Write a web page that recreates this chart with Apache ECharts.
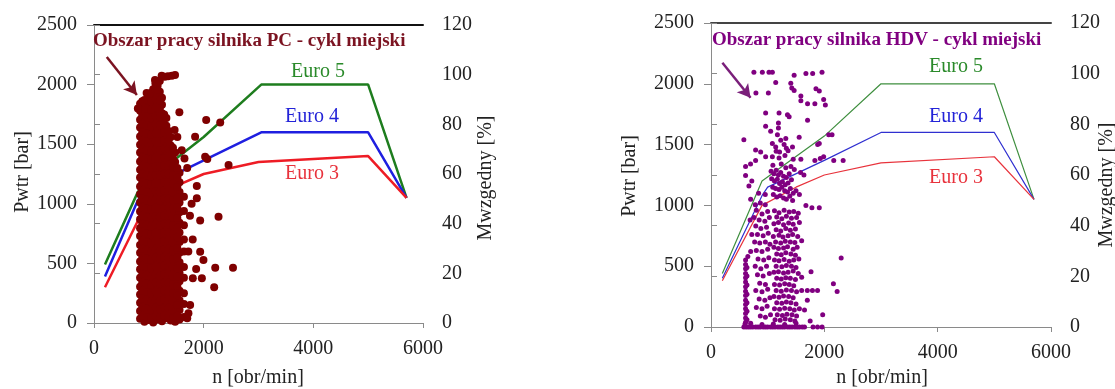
<!DOCTYPE html>
<html>
<head>
<meta charset="utf-8">
<script src="https://cdn.jsdelivr.net/npm/echarts@6/dist/echarts.min.js"></script>
<style>
  html, body { margin: 0; padding: 0; background: #fff; }
  #chart { width: 1115px; height: 389px; }
</style>
</head>
<body>
<div id="chart"></div>
<script>
// axis ticks
const nTicks = [0, 2000, 4000, 6000]
const pwtrTicks = [0, 500, 1000, 1500, 2000, 2500]
const mwzTicks = [0, 20, 40, 60, 80, 100, 120]

// Euro limit lines, [n, Pwtr]
const pcEuro5 = [[200, 490], [800, 1100], [1000, 1200], [2000, 1560], [3050, 2000], [5000, 2000], [5700, 1050]]
const pcEuro4 = [[200, 390], [800, 1030], [1000, 1140], [3050, 1600], [5000, 1600], [5700, 1050]]
const pcEuro3 = [[200, 300], [900, 950], [1500, 1150], [2000, 1250], [3000, 1350], [5000, 1400], [5700, 1050]]
const hdvEuro5 = [[200, 440], [900, 1200], [2000, 1570], [3000, 2000], [5000, 2000], [5700, 1050]]
const hdvEuro4 = [[200, 400], [900, 1080], [1000, 1150], [2000, 1370], [3000, 1600], [5000, 1600], [5700, 1050]]
const hdvEuro3 = [[200, 380], [900, 1000], [1500, 1150], [2000, 1250], [3000, 1350], [5000, 1400], [5700, 1050]]

// PC engine, city cycle: dense core given as columns (n) of Pwtr values
const pcColN = [840, 920, 1000, 1080, 1160, 1240, 1320, 1400, 1480, 1560, 1640]
const pcColP = [
  [35, 100, 170, 240, 305, 380, 450, 515, 590, 655, 730, 795, 870, 935, 1010, 1080, 1145, 1220, 1285, 1355, 1430, 1495, 1565, 1640, 1705, 1780, 1840],
  [10, 80, 150, 215, 290, 355, 425, 500, 565, 640, 705, 775, 850, 915, 990, 1055, 1130, 1195, 1270, 1335, 1410, 1475, 1550, 1615, 1690, 1755, 1820, 1870],
  [25, 95, 165, 225, 300, 375, 440, 505, 580, 655, 715, 790, 865, 925, 1000, 1075, 1135, 1210, 1285, 1345, 1420, 1495, 1555, 1630, 1705, 1765, 1840, 1905],
  [5, 75, 145, 215, 285, 350, 420, 495, 560, 635, 700, 770, 845, 910, 985, 1050, 1120, 1195, 1260, 1330, 1400, 1470, 1540, 1610, 1680, 1750, 1820, 1890, 1960],
  [30, 100, 165, 240, 310, 375, 450, 520, 585, 660, 725, 800, 865, 940, 1010, 1075, 1150, 1215, 1290, 1355, 1425, 1500, 1565, 1640, 1705, 1780, 1850, 1920, 1990],
  [15, 85, 150, 225, 290, 360, 435, 500, 575, 640, 715, 780, 855, 920, 995, 1060, 1135, 1200, 1275, 1340, 1415, 1480, 1550, 1620, 1690, 1760, 1830, 1890],
  [40, 105, 180, 255, 320, 385, 460, 535, 600, 665, 740, 815, 880, 945, 1020, 1095, 1160, 1225, 1300, 1375, 1440, 1505, 1580, 1655, 1720],
  [20, 90, 165, 230, 305, 370, 445, 515, 580, 655, 725, 790, 865, 930, 1005, 1070, 1145, 1210, 1285, 1350, 1420, 1490, 1560],
  [10, 70, 140, 215, 280, 355, 420, 500, 560, 640, 705, 780, 850, 915, 990, 1060, 1130, 1200, 1280, 1350, 1430],
  [30, 110, 190, 270, 350, 420, 510, 590, 680, 760, 840, 930, 1010, 1100, 1180, 1260],
  [50, 160, 250, 380, 470, 600, 700, 820, 940, 1060]
]
// second pass of the core, offset between the columns above
const pcColN2 = [880, 960, 1040, 1120, 1200, 1280, 1360, 1440, 1520]
const pcColP2 = [
  [60, 135, 205, 270, 340, 410, 480, 545, 620, 690, 760, 830, 900, 970, 1045, 1110, 1180, 1250, 1320, 1390, 1460, 1530, 1600, 1670, 1740, 1800, 1860],
  [50, 120, 190, 260, 330, 400, 470, 540, 610, 680, 750, 820, 890, 960, 1030, 1100, 1170, 1240, 1310, 1380, 1450, 1520, 1590, 1660, 1730, 1800, 1870, 1930],
  [40, 110, 180, 250, 320, 395, 460, 530, 600, 670, 745, 810, 880, 955, 1020, 1090, 1165, 1230, 1300, 1370, 1445, 1510, 1580, 1650, 1720, 1790, 1860, 1930],
  [55, 130, 195, 265, 340, 405, 475, 550, 615, 690, 755, 825, 895, 965, 1035, 1105, 1175, 1240, 1315, 1385, 1455, 1525, 1590, 1665, 1735, 1805, 1875, 1950, 2010],
  [45, 115, 185, 255, 330, 395, 465, 540, 605, 675, 750, 815, 890, 960, 1025, 1100, 1170, 1235, 1310, 1380, 1450, 1515, 1590, 1660, 1730, 1800, 1865, 1940],
  [60, 125, 200, 270, 335, 410, 480, 550, 620, 685, 760, 830, 900, 965, 1040, 1110, 1180, 1250, 1320, 1385, 1460, 1530, 1600, 1670, 1750],
  [50, 125, 195, 260, 335, 405, 475, 545, 615, 690, 760, 825, 900, 970, 1040, 1110, 1180, 1250, 1320, 1395, 1460, 1530, 1610],
  [40, 110, 185, 250, 325, 395, 470, 535, 610, 680, 750, 820, 890, 960, 1030, 1100, 1170, 1240, 1310, 1380, 1470],
  [60, 150, 230, 310, 390, 460, 550, 630, 720, 800, 880, 970, 1050, 1140, 1220, 1300]
]
// PC engine: top cluster and outliers, [n, Pwtr]
const pcExtra = [
  [1112, 2039], [1142, 1982], [1160, 1955], [1200, 2030], [1234, 2075], [1290, 2065], [1350, 2070], [1420, 2075], [1478, 2080],
  [1557, 1768], [2046, 1703], [2302, 1683], [1844, 1563], [2027, 1395], [2066, 1376], [2454, 1325], [1875, 1149],
  [1875, 1046], [2271, 892], [1936, 859], [1936, 598], [1996, 528], [1863, 453], [2211, 464], [2535, 464],
  [1802, 375], [1967, 375], [2192, 300], [1753, 151], [1722, 81], [1700, 40], [1600, 1450], [1650, 1380],
  [1700, 1300], [1750, 900], [1800, 700], [1720, 600], [1780, 1000], [1520, 1560], [1470, 1620], [800, 1800]
]

// HDV engine, city cycle, [n, Pwtr]
const hdvPoints = [
  // upper sparse part
  [757, 2094], [906, 2094], [1023, 2094], [1083, 2094], [1467, 2070], [1675, 2085], [1794, 2085], [1959, 2094],
  [1142, 2011], [1408, 2005], [1426, 1965], [793, 1925], [1012, 1925], [1467, 1944], [1852, 1960], [1911, 1940],
  [1586, 1900], [1586, 1860], [1704, 1835], [1833, 1835], [1988, 1870], [2018, 1825],
  [964, 1760], [1201, 1760], [1349, 1745], [1379, 1730], [1704, 1700], [1190, 1677], [1190, 1636], [964, 1650],
  [1053, 1609], [1172, 1580], [1556, 1560], [2077, 1580], [2136, 1580], [580, 1540], [1231, 1535], [1320, 1550],
  [1083, 1510], [1142, 1480], [1290, 1500], [1330, 1470], [1360, 1450], [1438, 1480], [1911, 1510], [1882, 1500],
  [787, 1455], [876, 1440], [1150, 1445], [1210, 1440],
  [964, 1400], [1083, 1400], [1201, 1390], [1305, 1410], [1451, 1380], [1586, 1380], [1833, 1370], [1929, 1385],
  [1988, 1400], [2166, 1370], [2332, 1370], [787, 1370], [698, 1340], [610, 1320],
  // 1000..1350 bar
  [1092, 1330], [1240, 1340], [1320, 1310], [1410, 1320], [1470, 1295], [1580, 1270], [1640, 1250],
  [610, 1245], [669, 1160], [720, 1200],
  [1060, 1280], [1110, 1260], [1150, 1290], [1190, 1250], [1230, 1270], [1280, 1240], [1330, 1230], [1380, 1260], [1420, 1210],
  [1070, 1220], [1120, 1200], [1170, 1215], [1210, 1180], [1260, 1195], [1310, 1170], [1360, 1185],
  [1090, 1150], [1140, 1140], [1200, 1130], [1250, 1150], [1300, 1120], [1350, 1110], [1400, 1140], [1450, 1100],
  [1100, 1090], [1160, 1070], [1220, 1080], [1280, 1060], [1330, 1050], [1390, 1075], [1440, 1040], [1500, 1120], [1560, 1090],
  [840, 1100], [958, 1090], [781, 1005], [870, 1020], [958, 1005], [1675, 1000], [1781, 980], [1911, 980],
  // left sub-column 750..1050
  [800, 960], [900, 930], [1000, 950], [760, 900], [850, 880], [950, 870], [1030, 900], [790, 830], [880, 810], [980, 820],
  [820, 760], [920, 750], [1010, 770], [770, 700], [860, 690], [960, 700], [1040, 680], [800, 630], [900, 620], [1000, 640],
  [830, 560], [930, 550], [1020, 570], [780, 500], [880, 480], [980, 500], [820, 430], [920, 420], [1030, 440],
  [860, 360], [960, 350], [790, 300], [900, 290], [1000, 310], [850, 230], [950, 220], [1040, 240],
  [800, 160], [900, 150], [990, 170], [870, 90], [960, 80], [1050, 100], [700, 1050], [690, 880], [720, 760], [700, 620],
  // right sub-column 1100..1600
  [1120, 955], [1200, 940], [1290, 960], [1380, 945], [1460, 950], [1540, 935],
  [1160, 905], [1250, 890], [1330, 910], [1420, 895], [1510, 900],
  [1110, 850], [1190, 860], [1280, 840], [1370, 855], [1450, 845], [1560, 860],
  [1150, 800], [1230, 790], [1320, 810], [1400, 795], [1490, 805],
  [1100, 745], [1200, 755], [1270, 740], [1360, 750], [1440, 760], [1530, 745],
  [1140, 700], [1230, 690], [1310, 705], [1400, 700], [1480, 695], [1600, 710],
  [1110, 655], [1190, 645], [1280, 650], [1350, 660], [1450, 640], [1520, 655],
  [1160, 600], [1240, 595], [1320, 610], [1410, 600], [1490, 590],
  [1120, 550], [1200, 545], [1290, 555], [1380, 540], [1460, 550], [1550, 560],
  [1150, 500], [1250, 495], [1330, 505], [1420, 500], [1500, 490],
  [1110, 450], [1190, 455], [1280, 445], [1360, 450], [1450, 460], [1540, 440],
  [1160, 400], [1240, 395], [1320, 405], [1400, 400], [1490, 390], [1600, 410],
  [1120, 350], [1210, 345], [1300, 355], [1380, 350], [1460, 340],
  [1150, 300], [1240, 295], [1330, 305], [1420, 300], [1510, 290], [1600, 300],
  [1110, 250], [1200, 245], [1280, 255], [1370, 250], [1450, 240],
  [1160, 200], [1250, 195], [1330, 205], [1410, 200], [1500, 190],
  [1120, 150], [1210, 145], [1300, 155], [1390, 150], [1470, 140], [1560, 150],
  [1170, 100], [1260, 95], [1340, 105], [1430, 100], [1510, 90],
  [1130, 60], [1220, 55], [1310, 65], [1400, 60], [1480, 50],
  // outliers
  [1765, 455], [1700, 300], [1790, 300], [1880, 300], [1700, 220], [1650, 140], [2297, 567], [2160, 355], [2226, 292], [1971, 100], [1750, 50],
  // strip at ~600 rpm
  [610, 40], [610, 75], [610, 110], [610, 150], [610, 185], [610, 220], [610, 260], [610, 295], [610, 330], [610, 370], [610, 405], [610, 440], [610, 480], [610, 515], [610, 550],
  [635, 60], [635, 130], [635, 200], [635, 270], [635, 345], [635, 420], [635, 490], [650, 580],
  // bottom row
  [580, 0], [620, 0], [660, 0], [700, 0], [740, 0], [790, 0], [830, 0], [870, 0], [920, 0], [960, 0], [1000, 0], [1050, 0], [1090, 0],
  [1130, 0], [1180, 0], [1220, 0], [1260, 0], [1300, 0], [1350, 0], [1390, 0], [1430, 0], [1480, 0], [1520, 0], [1560, 0], [1610, 0], [1650, 0],
  [600, 25], [700, 30], [900, 20], [1100, 25], [1300, 20], [1500, 30], [1800, 0], [1880, 0], [1960, 0]
]

// arrows pointing at the operating area, [n, Pwtr]
const pcArrow = [[233, 2232], [782, 1913]]
const hdvArrow = [[201, 2173], [698, 1886]]

const pcPoints = []
pcColN.forEach((n, i) => {
  pcColP[i].forEach(p => pcPoints.push([n, p]))
})
pcColN2.forEach((n, i) => {
  pcColP2[i].forEach(p => pcPoints.push([n, p]))
})
pcExtra.forEach(d => pcPoints.push(d))

const FONT = '"Liberation Serif", "Times New Roman", serif'
const textCol = '#222'
const axisGrey = '#8a8a8a'
const plain = v => String(v)

function xAxes(grid, topColor) {
  return [{
    gridIndex: grid,
    type: 'value',
    min: nTicks[0],
    max: nTicks[nTicks.length - 1],
    interval: nTicks[1] - nTicks[0],
    position: 'bottom',
    axisLine: { show: true, onZero: false, lineStyle: { color: axisGrey, width: 1 } },
    axisTick: { show: true, length: 5, lineStyle: { color: axisGrey } },
    axisLabel: { color: textCol, fontFamily: FONT, fontSize: 20, margin: 16, formatter: plain },
    splitLine: { show: false }
  }, {
    gridIndex: grid,
    type: 'value',
    min: nTicks[0],
    max: nTicks[nTicks.length - 1],
    position: 'top',
    axisLine: { show: true, onZero: false, lineStyle: { color: topColor, width: 2 } },
    axisTick: { show: false },
    axisLabel: { show: false },
    splitLine: { show: false }
  }]
}

function yAxes(grid) {
  return [{
    gridIndex: grid,
    type: 'value',
    min: pwtrTicks[0],
    max: pwtrTicks[pwtrTicks.length - 1],
    interval: pwtrTicks[1] - pwtrTicks[0],
    position: 'left',
    axisLine: { show: true, lineStyle: { color: axisGrey } },
    axisTick: { show: true, length: 7, lineStyle: { color: axisGrey } },
    axisLabel: { color: textCol, fontFamily: FONT, fontSize: 20, margin: 17, formatter: plain },
    splitLine: { show: false }
  }, {
    gridIndex: grid,
    type: 'value',
    min: mwzTicks[0],
    max: mwzTicks[mwzTicks.length - 1],
    interval: mwzTicks[1] - mwzTicks[0],
    position: 'right',
    axisLine: { show: true, lineStyle: { color: axisGrey } },
    axisTick: { show: true, length: 6, lineStyle: { color: axisGrey } },
    axisLabel: { color: textCol, fontFamily: FONT, fontSize: 20, margin: 19, formatter: plain },
    splitLine: { show: false }
  }]
}

function euroLine(data, color, width, xi, yi) {
  return {
    type: 'line',
    xAxisIndex: xi,
    yAxisIndex: yi,
    data: data,
    showSymbol: false,
    symbol: 'none',
    lineStyle: { color: color, width: width },
    z: 2,
    silent: true
  }
}

function arrow(coords, color, xi, yi) {
  return {
    type: 'scatter',
    xAxisIndex: xi,
    yAxisIndex: yi,
    data: [],
    silent: true,
    markLine: {
      silent: true,
      symbol: ['none', 'arrow'],
      symbolSize: [11, 13],
      label: { show: false },
      lineStyle: { color: color, width: 2.5, type: 'solid' },
      data: [[{ coord: coords[0] }, { coord: coords[1] }]]
    }
  }
}

function txt(text, x, y, color, size, opts) {
  opts = opts || {}
  return {
    type: 'text',
    x: x,
    y: y,
    rotation: opts.rotation || 0,
    z: 100,
    style: {
      text: text,
      fill: color,
      font: (opts.bold ? 'bold ' : '') + size + 'px ' + FONT,
      textAlign: opts.align || 'center',
      textVerticalAlign: 'middle'
    }
  }
}

const myChart = echarts.init(document.getElementById('chart'), null, { renderer: 'canvas' })
const option = {
  animation: false,
  backgroundColor: '#fff',
  grid: [
    { left: 94, top: 25, width: 329, height: 298 },
    { left: 711, top: 23, width: 340, height: 304 }
  ],
  xAxis: xAxes(0, '#111').concat(xAxes(1, '#444')),
  yAxis: yAxes(0).concat(yAxes(1)),
  series: [
    euroLine(pcEuro5, '#1e7d1e', 2.5, 0, 0),
    euroLine(pcEuro4, '#1f1fe0', 2.5, 0, 0),
    euroLine(pcEuro3, '#ee1c25', 2.5, 0, 0),
    {
      type: 'scatter',
      xAxisIndex: 0,
      yAxisIndex: 0,
      data: pcPoints,
      symbol: 'circle',
      symbolSize: 8,
      itemStyle: { color: '#7f0000', opacity: 1 },
      z: 3,
      silent: true
    },
    arrow(pcArrow, '#7b1321', 0, 0),
    euroLine(hdvEuro5, '#3f8f3f', 1.2, 2, 2),
    euroLine(hdvEuro4, '#3030d0', 1.2, 2, 2),
    euroLine(hdvEuro3, '#e8333c', 1.2, 2, 2),
    {
      type: 'scatter',
      xAxisIndex: 2,
      yAxisIndex: 2,
      data: hdvPoints,
      symbol: 'circle',
      symbolSize: 5,
      itemStyle: { color: '#800080', opacity: 1 },
      z: 3,
      silent: true
    },
    arrow(hdvArrow, '#7a1f7a', 2, 2)
  ],
  graphic: [
    txt('Obszar pracy silnika PC - cykl miejski', 93, 41, '#7b1321', 19, { bold: true, align: 'left' }),
    txt('Obszar pracy silnika HDV - cykl miejski', 712, 40, '#800080', 19, { bold: true, align: 'left' }),
    txt('Euro 5', 318, 72, '#2a8a2a', 20),
    txt('Euro 4', 312, 117, '#2323d8', 20),
    txt('Euro 3', 312, 174, '#e8323c', 20),
    txt('Euro 5', 956, 67, '#2a8a2a', 20),
    txt('Euro 4', 956, 117, '#2323d8', 20),
    txt('Euro 3', 956, 178, '#e8323c', 20),
    txt('Pwtr [bar]', 23, 172, textCol, 20, { rotation: Math.PI / 2 }),
    txt('Mwzgedny [%]', 486, 178, textCol, 20, { rotation: Math.PI / 2 }),
    txt('n [obr/min]', 258, 378, textCol, 20),
    txt('Pwtr [bar]', 630, 176, textCol, 20, { rotation: Math.PI / 2 }),
    txt('Mwzgedny [%]', 1107, 185, textCol, 20, { rotation: Math.PI / 2 }),
    txt('n [obr/min]', 882, 378, textCol, 20)
  ]
}
myChart.setOption(option)
</script>
</body>
</html>
